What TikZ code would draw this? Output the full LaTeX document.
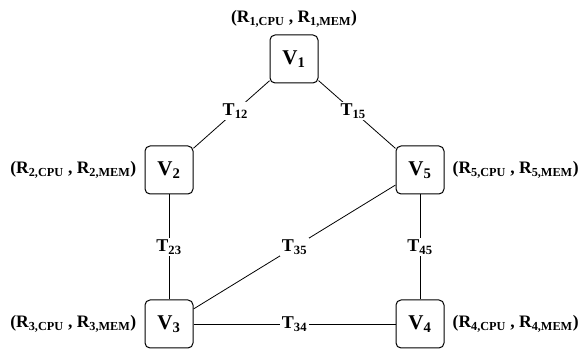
\documentclass[tikz,border=0pt]{standalone}
\usepackage{fontspec}
\setmainfont{Liberation Serif}
\usetikzlibrary{positioning,calc}

\begin{document}
\begin{tikzpicture}[
  x=1pt, y=-1pt,
  vm/.style={draw, line width=1pt, rounded corners=5pt, minimum width=48pt, minimum height=48pt, font=\fontsize{21}{23}\selectfont\bfseries},
  res/.style={font=\fontsize{17.5}{20}\selectfont\bfseries, inner sep=1pt},
  tlabel/.style={fill=white, font=\fontsize{18}{20}\selectfont\bfseries, inner sep=1.5pt},
  link/.style={line width=0.8pt},
]
\useasboundingbox (0,0) rectangle (582,352);

% Servers
\node[vm] (v1) at (294,59) {V\textsubscript{1}};
\node[vm] (v2) at (169,170) {V\textsubscript{2}};
\node[vm] (v5) at (420,170) {V\textsubscript{5}};
\node[vm] (v3) at (169,324) {V\textsubscript{3}};
\node[vm] (v4) at (420,324) {V\textsubscript{4}};

% Resources
\node[res, above=6pt of v1] (r1) {(R\textsubscript{1,CPU} , R\textsubscript{1,MEM})};
\node[res, left=7pt of v2] (r2) {(R\textsubscript{2,CPU} , R\textsubscript{2,MEM})};
\node[res, right=7pt of v5] (r5) {(R\textsubscript{5,CPU} , R\textsubscript{5,MEM})};
\node[res, left=7pt of v3] (r3) {(R\textsubscript{3,CPU} , R\textsubscript{3,MEM})};
\node[res, right=7pt of v4] (r4) {(R\textsubscript{4,CPU} , R\textsubscript{4,MEM})};

% Links
\draw[link] (v1) -- node[tlabel, pos=0.45] (t12) {T\textsubscript{12}} (v2);
\draw[link] (v1) -- node[tlabel, pos=0.45] (t15) {T\textsubscript{15}} (v5);
\draw[link] (v2) -- node[tlabel] (t23) {T\textsubscript{23}} (v3);
\draw[link] (v5) -- node[tlabel] (t45) {T\textsubscript{45}} (v4);
\draw[link] (v3) -- node[tlabel] (t35) {T\textsubscript{35}} (v5);
\draw[link] (v3) -- node[tlabel] (t34) {T\textsubscript{34}} (v4);

\end{tikzpicture}
\end{document}
